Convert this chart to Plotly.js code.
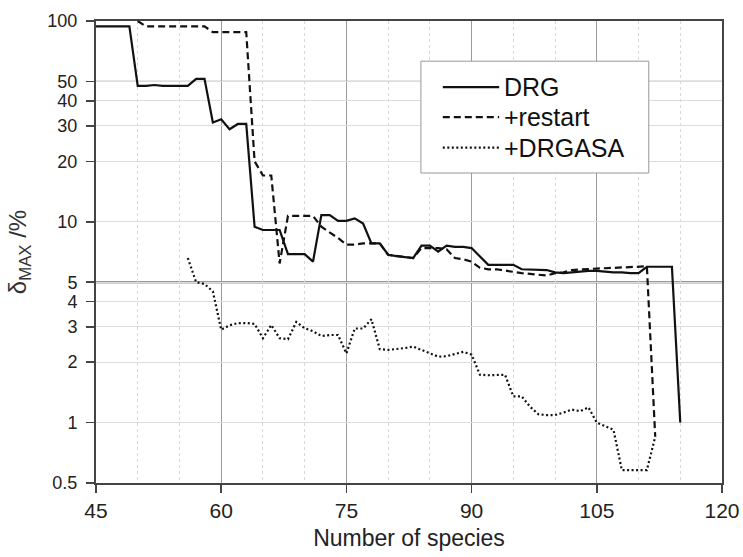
<!DOCTYPE html>
<html>
<head>
<meta charset="utf-8">
<script src="https://cdn.plot.ly/plotly-3.0.1.min.js"></script>
<style>html,body{margin:0;padding:0;background:#fff;}#chart{width:743px;height:557px;}</style>
</head>
<body>
<div id="chart"></div>
<script>
// Number of species (x) and delta_MAX in % (y)
const drgX = [45,46,47,48,49,50,51,52,53,54,55,56,57,58,59,60,61,62,63,64,65,66,67,68,69,70,71,72,73,74,75,76,77,78,79,80,81,82,83,84,85,86,87,88,89,90,91,92,93,94,95,96,97,98,99,100,101,102,103,104,105,106,107,108,109,110,111,112,113,114,115];
const drgY = [94,94,94,94,94,47.5,47.5,48,47.5,47.5,47.5,47.5,51.5,51.5,31.2,32.4,28.9,30.7,30.7,9.45,9.1,9.1,9.1,6.9,6.9,6.9,6.33,10.8,10.8,10.1,10.1,10.4,9.8,7.8,7.8,6.85,6.75,6.65,6.6,7.6,7.6,7.1,7.6,7.5,7.5,7.4,6.7,6.1,6.1,6.1,6.1,5.8,5.8,5.8,5.75,5.6,5.55,5.6,5.65,5.7,5.7,5.65,5.6,5.6,5.55,5.55,5.97,5.97,5.97,5.97,1.0];

const restartX = [50,51,52,53,54,55,56,57,58,59,60,61,62,63,64,65,66,67,68,69,70,71,72,73,74,75,76,77,78,79,80,81,82,83,84,85,86,87,88,89,90,91,92,93,94,95,96,97,98,99,100,101,102,103,104,105,106,107,108,109,110,111,112];
const restartY = [100,94,94,94,94,94,94,94,94,88,88,88,88,88,20,17,17,6.2,10.7,10.7,10.7,10.7,9.45,8.9,8.3,7.7,7.7,7.8,7.8,7.8,6.85,6.75,6.65,6.6,7.4,7.4,7.4,7.3,6.6,6.5,6.33,5.9,5.8,5.8,5.7,5.6,5.55,5.5,5.45,5.4,5.55,5.6,5.75,5.8,5.8,5.85,5.87,5.9,5.92,5.95,5.97,6.0,0.85];

const drgasaX = [56,57,58,59,60,61,62,63,64,65,66,67,68,69,70,71,72,73,74,75,76,77,78,79,80,81,82,83,84,85,86,87,88,89,90,91,92,93,94,95,96,97,98,99,100,101,102,103,104,105,106,107,108,109,110,111,112];
const drgasaY = [6.6,5.0,4.9,4.5,2.9,3.05,3.13,3.13,3.1,2.63,3.06,2.63,2.6,3.17,2.95,2.85,2.7,2.73,2.73,2.21,2.94,2.94,3.27,2.32,2.3,2.32,2.35,2.39,2.3,2.22,2.13,2.14,2.2,2.25,2.18,1.73,1.72,1.73,1.73,1.35,1.35,1.2,1.1,1.09,1.09,1.12,1.16,1.14,1.19,1.0,0.96,0.92,0.58,0.58,0.58,0.58,0.85];

const seriesNames = ['DRG', '+restart', '+DRGASA'];
const yTickVals = [0.5,1,2,3,4,5,10,20,30,40,50,100];
const yTickText = ['0.5','1','2','3','4','5','10','20','30','40','50','100'];
const xTickVals = [45,60,75,90,105,120];
const refLevels = [50, 5];

const FONT = 'Liberation Sans, Arial, sans-serif';
const dashes = ['solid', '7px,4px', '2px,2.5px'];
const seriesX = [drgX, restartX, drgasaX];
const seriesY = [drgY, restartY, drgasaY];

const traces = seriesNames.map((n, i) => ({
  x: seriesX[i], y: seriesY[i], name: n, mode: 'lines', showlegend: false,
  line: {color: '#111', width: 2.2, dash: dashes[i]}
}));

// reference grid levels
const shapes = refLevels.map((v, i) => ({
  type: 'line', xref: 'paper', x0: 0, x1: 1, yref: 'y', y0: v, y1: v,
  line: {color: '#999', width: i === 1 ? 2.6 : 1.2}, layer: 'below'
}));

// legend box (paper coordinates) drawn as a key
const leg = {x0: 0.519, x1: 0.883, y0: 0.671, y1: 0.913, lineX0: 0.554, lineX1: 0.644, textX: 0.648, rows: [0.857, 0.792, 0.726]};
shapes.push({type: 'rect', xref: 'paper', yref: 'paper', x0: leg.x0, x1: leg.x1, y0: leg.y0, y1: leg.y1,
  fillcolor: '#fff', line: {color: '#999', width: 1}, layer: 'above'});
const annotations = [];
seriesNames.forEach((n, i) => {
  shapes.push({type: 'line', xref: 'paper', yref: 'paper', x0: leg.lineX0, x1: leg.lineX1, y0: leg.rows[i], y1: leg.rows[i],
    line: {color: '#111', width: 2.2, dash: dashes[i]}, layer: 'above'});
  annotations.push({xref: 'paper', yref: 'paper', x: leg.textX, y: leg.rows[i], xanchor: 'left', yanchor: 'middle',
    text: n, showarrow: false, font: {family: FONT, size: 25, color: '#111'}});
});

const layout = {
  width: 743, height: 557,
  margin: {l: 96, r: 21, t: 21, b: 74},
  paper_bgcolor: '#fff', plot_bgcolor: '#fff',
  font: {family: FONT, size: 20, color: '#222'},
  showlegend: false,
  xaxis: {
    range: [45, 120], tickvals: xTickVals, ticktext: xTickVals.map(String),
    ticks: 'outside', ticklen: 8, tickwidth: 1.5, tickcolor: '#444',
    showline: true, linecolor: '#444', linewidth: 2, mirror: true,
    showgrid: true, gridcolor: '#9a9a9a', gridwidth: 1,
    minor: {dtick: 5, tick0: 45, showgrid: true, gridcolor: '#d8d8d8', griddash: 'dot', gridwidth: 1, ticks: ''},
    zeroline: false,
    tickfont: {family: FONT, size: 21, color: '#222'},
    title: {text: 'Number of species', font: {family: FONT, size: 23, color: '#222'}, standoff: 9}
  },
  yaxis: {
    type: 'log', range: [Math.log10(0.5), 2],
    tickvals: yTickVals, ticktext: yTickText,
    ticks: 'outside', ticklen: 8, tickwidth: 1.5, tickcolor: '#444',
    ticklabelstandoff: 5,
    showline: true, linecolor: '#444', linewidth: 2, mirror: true,
    showgrid: true, gridcolor: '#dcdcdc', gridwidth: 1,
    zeroline: false,
    tickfont: {family: FONT, size: 18, color: '#222'},
    title: {text: 'δ<sub>MAX</sub> /%', font: {family: FONT, size: 24, color: '#333'}, standoff: 14}
  },
  shapes: shapes,
  annotations: annotations
};

Plotly.newPlot('chart', traces, layout, {staticPlot: true, displayModeBar: false});
</script>
</body>
</html>
